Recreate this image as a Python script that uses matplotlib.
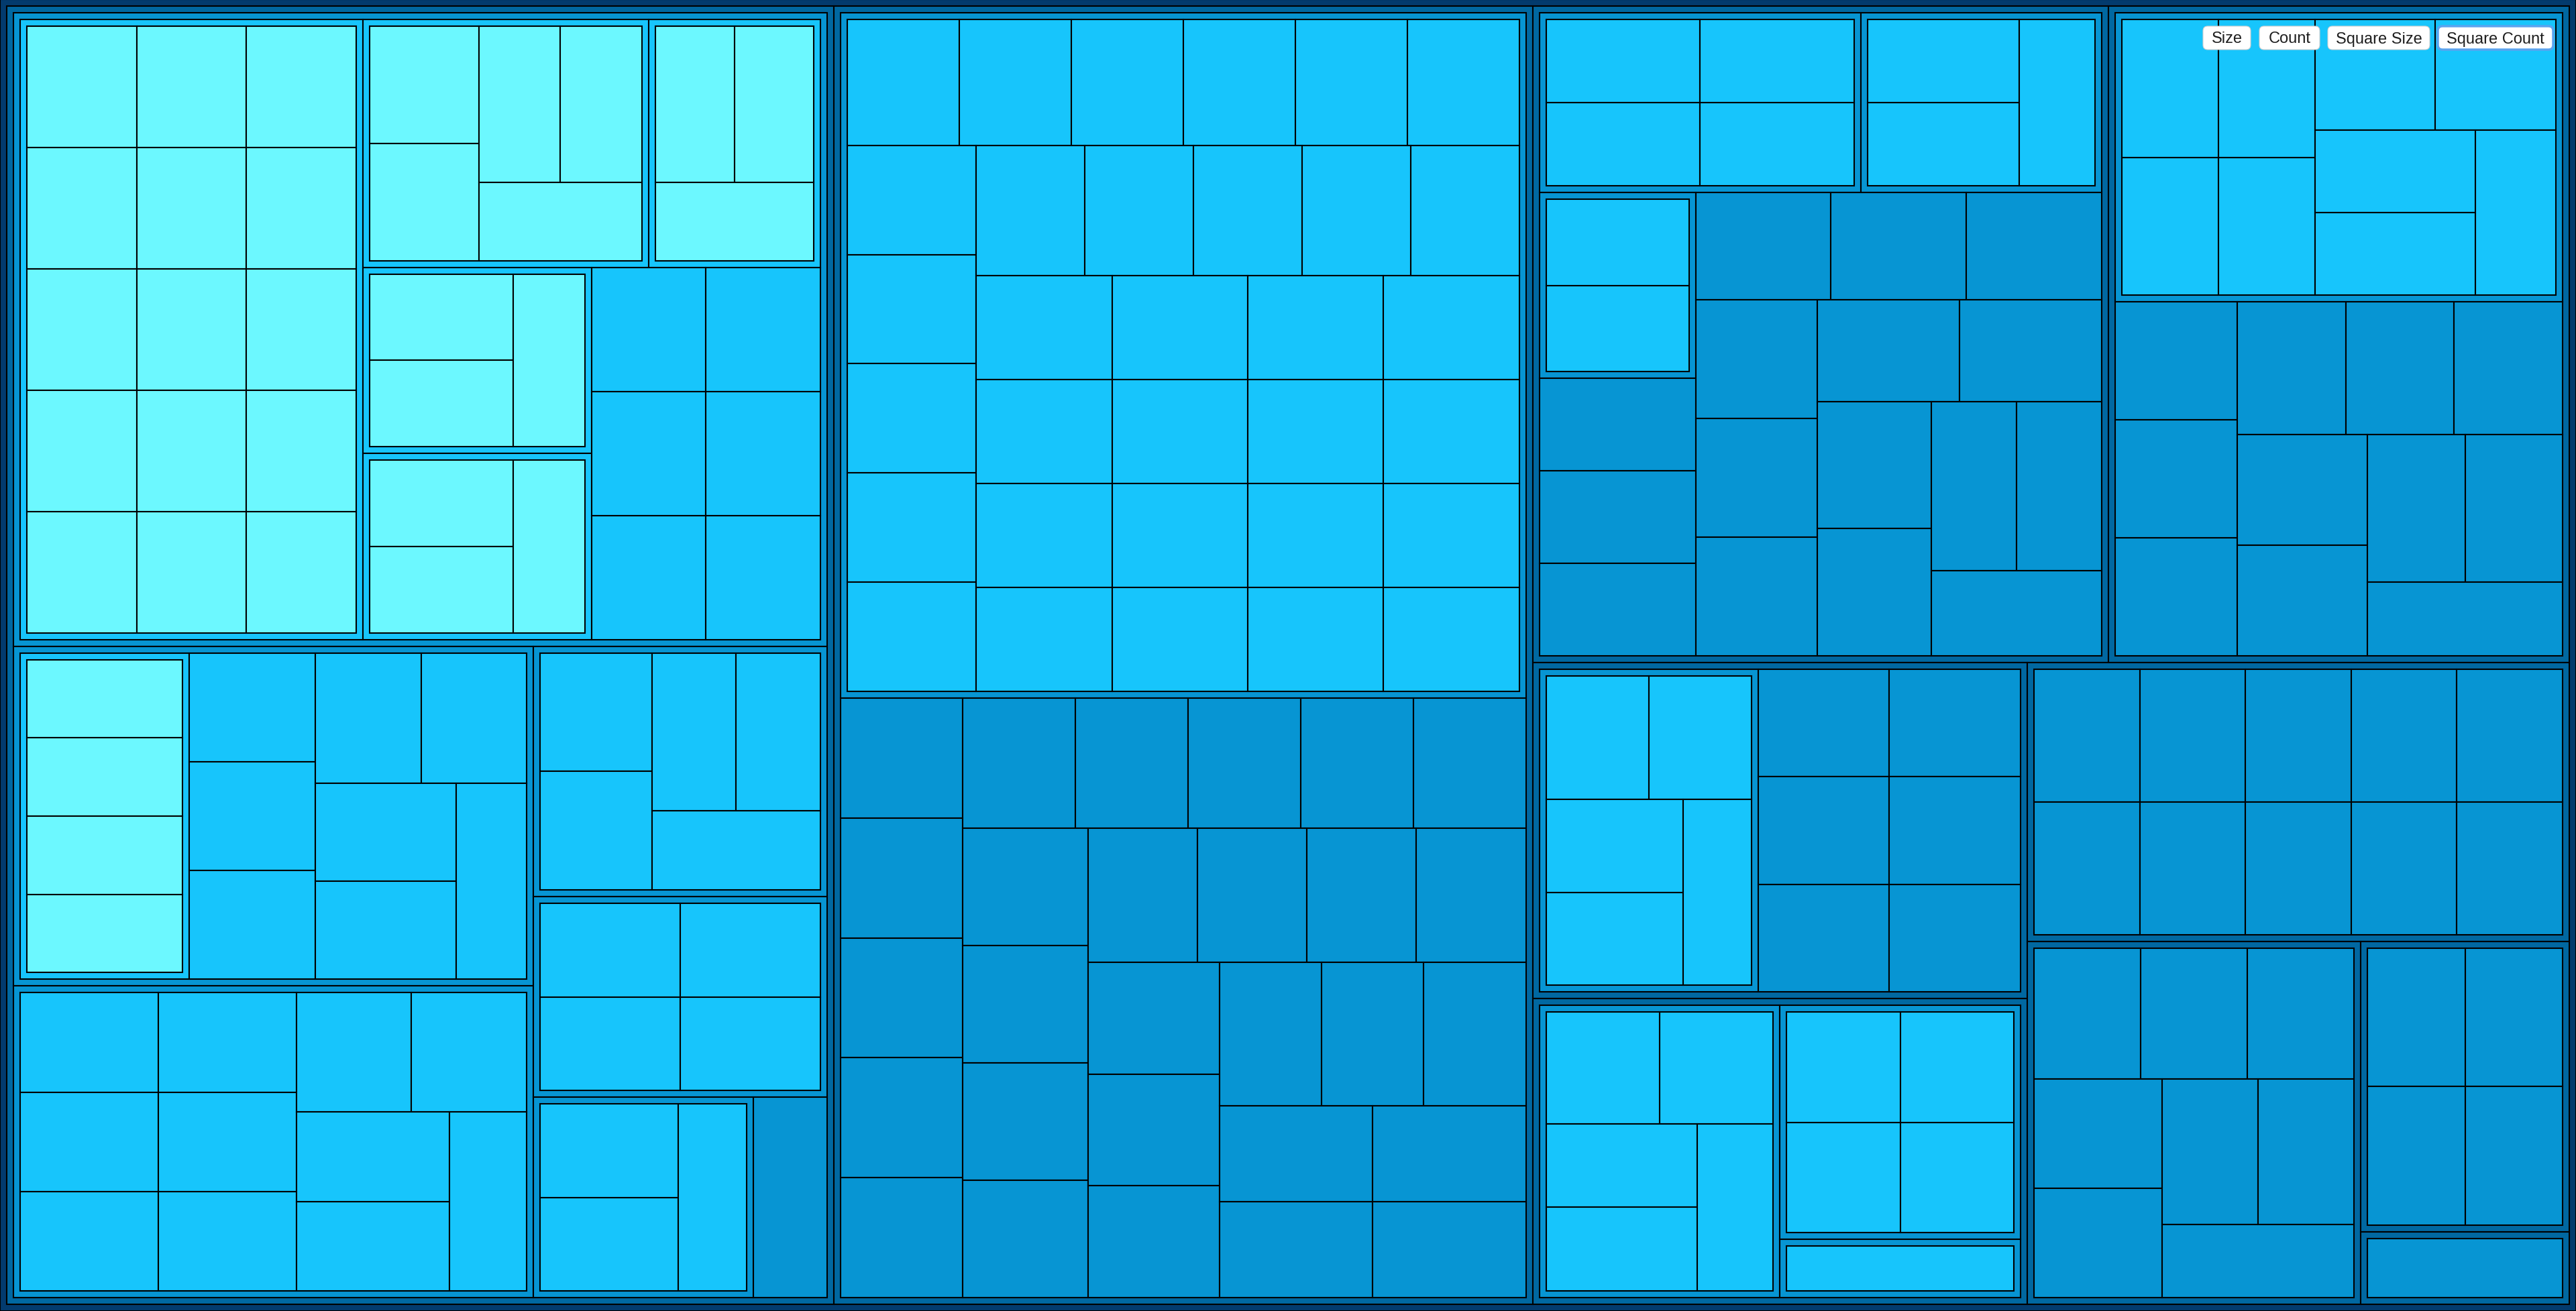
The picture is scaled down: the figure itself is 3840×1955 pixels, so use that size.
import matplotlib
matplotlib.use('Agg')
import matplotlib.pyplot as plt
from matplotlib.patches import Rectangle, FancyBboxPatch

W, H = 3840, 1956
PAD = 10
RATIO = 1.0  # "square" tiling: target aspect ratio 1


def items(n):
    return [1] * n


# one entry per top-level group; 1 = single item, list = sub-group
group_a = [
    [items(15), items(5), items(3), items(3), items(3)] + items(6),
    [items(4)] + items(8),
    items(11),
    items(5),
    items(4),
    items(3),
    1,
]
group_b = [items(32)] + items(28)
group_c = [items(4), items(3), items(2)] + items(16)
group_d = [items(9)] + items(11)
group_e = [items(5)] + items(6)
group_f = [items(5), items(4), items(1)]
group_g = items(10)
group_h = items(8)
group_i = items(4)
group_j = items(1)
tree = [group_a, group_b, group_c, group_d, group_e, group_f,
        group_g, group_h, group_i, group_j]

depth_colors = ['#033b6e', '#0168a1', '#0795d3', '#17c5fc', '#6cf8ff']
buttons = ['Size', 'Count', 'Square Size', 'Square Count']


def build(data, depth=0):
    node = {'depth': depth}
    if isinstance(data, list):
        kids = [build(d, depth + 1) for d in data]
        kids.sort(key=lambda k: -k['value'])  # stable, like d3 sort by value
        node['children'] = kids
        node['value'] = sum(k['value'] for k in kids)
    else:
        node['value'] = data
    return node


def dice(row, x0, y0, x1, y1, total):
    k = (x1 - x0) / total
    for n in row:
        n['y0'], n['y1'], n['x0'] = y0, y1, x0
        x0 += n['value'] * k
        n['x1'] = x0


def slice_(row, x0, y0, x1, y1, total):
    k = (y1 - y0) / total
    for n in row:
        n['x0'], n['x1'], n['y0'] = x0, x1, y0
        y0 += n['value'] * k
        n['y1'] = y0


def squarify(nodes, value, x0, y0, x1, y1):
    i0 = i1 = 0
    n = len(nodes)
    while i0 < n:
        dx, dy = x1 - x0, y1 - y0
        s = nodes[i1]['value']
        i1 += 1
        lo = hi = s
        alpha = max(dy / dx, dx / dy) / (value * RATIO)
        beta = s * s * alpha
        best = max(hi / beta, beta / lo)
        while i1 < n:
            v = nodes[i1]['value']
            s += v
            lo, hi = min(lo, v), max(hi, v)
            beta = s * s * alpha
            r = max(hi / beta, beta / lo)
            if r > best:
                s -= v
                break
            best = r
            i1 += 1
        row = nodes[i0:i1]
        if dx < dy:
            ny = y0 + dy * s / value
            dice(row, x0, y0, x1, ny, s)
            y0 = ny
        else:
            nx = x0 + dx * s / value
            slice_(row, x0, y0, nx, y1, s)
            x0 = nx
        value -= s
        i0 = i1


def layout(node):
    kids = node.get('children')
    if not kids:
        return
    squarify(kids, node['value'], node['x0'] + PAD, node['y0'] + PAD,
             node['x1'] - PAD, node['y1'] - PAD)
    for k in kids:
        layout(k)


def walk(node):
    yield node
    for k in node.get('children', []):
        yield from walk(k)


root = build(tree)
root.update(x0=0, y0=0, x1=W, y1=H)
layout(root)

fig = plt.figure(figsize=(W / 100, H / 100), dpi=100)
ax = fig.add_axes([0, 0, 1, 1])
ax.set_xlim(0, W)
ax.set_ylim(H, 0)
ax.axis('off')

for nd in walk(root):
    ax.add_patch(Rectangle((nd['x0'], nd['y0']), nd['x1'] - nd['x0'], nd['y1'] - nd['y0'],
                           facecolor=depth_colors[nd['depth']], edgecolor='black',
                           linewidth=1.5, zorder=nd['depth']))

# toggle buttons, top right
btn_x = [3284, 3368, 3470, 3634]
btn_w = [71, 90, 152, 172]
for i, label in enumerate(buttons):
    focused = label == 'Square Count'
    ax.add_patch(FancyBboxPatch((btn_x[i], 40), btn_w[i], 35,
                                boxstyle='round,pad=0,rounding_size=7',
                                facecolor='white',
                                edgecolor='#5aa4ef' if focused else '#d0d0d0',
                                linewidth=2.5 if focused else 0.8, zorder=10))
    ax.text(btn_x[i] + btn_w[i] / 2, 58.5, label, ha='center', va='center',
            fontsize=17, color='#1e1e1e', family='Liberation Sans', zorder=11)

fig.savefig('out.png', dpi=100)
